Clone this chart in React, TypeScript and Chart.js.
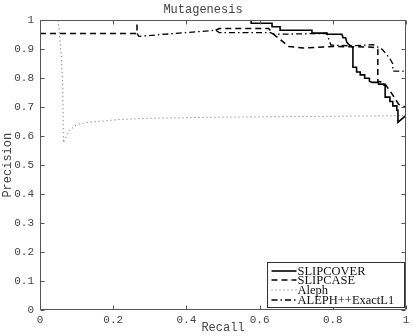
import React, { useEffect, useRef } from 'react';
import { Chart, registerables } from 'chart.js';

Chart.register(...registerables);

const titleText = 'Mutagenesis';
const xLabel = 'Recall';
const yLabel = 'Precision';
const xTicks = [0, 0.2, 0.4, 0.6, 0.8, 1];
const yTicks = [0, 0.1, 0.2, 0.3, 0.4, 0.5, 0.6, 0.7, 0.8, 0.9, 1];
const seriesNames = ['SLIPCOVER', 'SLIPCASE', 'Aleph', 'ALEPH++ExactL1'];

const slipcoverRecall = [0.577, 0.577, 0.634, 0.634, 0.656, 0.656, 0.743, 0.743, 0.784, 0.784, 0.825, 0.828, 0.835, 0.838, 0.845, 0.855, 0.855, 0.865, 0.865, 0.875, 0.875, 0.887, 0.887, 0.9, 0.9, 0.907, 0.925, 0.925, 0.94, 0.94, 0.943, 0.943, 0.956, 0.956, 0.964, 0.964, 0.975, 0.975, 0.978, 0.978, 1.0];
const slipcoverPrecision = [1.0, 0.99, 0.99, 0.978, 0.978, 0.966, 0.966, 0.956, 0.956, 0.952, 0.952, 0.94, 0.94, 0.925, 0.915, 0.907, 0.838, 0.838, 0.822, 0.822, 0.812, 0.812, 0.8, 0.8, 0.79, 0.786, 0.786, 0.78, 0.78, 0.776, 0.776, 0.735, 0.735, 0.72, 0.72, 0.705, 0.705, 0.69, 0.69, 0.648, 0.672];

// null precision = break in the line
const slipcaseRecall = [0, 0.265, 0.265, 0.37, 0.48, 0.49, 0.625, 0.635, 0.66, 0.68, 0.72, 0.8, 0.9, 0.92, 0.923, 0.923, 0.94, 0.96, 0.98, 1.0];
const slipcasePrecision: (number | null)[] = [0.955, 0.955, 1.0, null, 0.966, 0.972, 0.972, 0.955, 0.93, 0.91, 0.905, 0.91, 0.908, 0.905, 0.9, 0.79, 0.785, 0.75, 0.71, 0.7];

const alephRecall = [0.05, 0.058, 0.062, 0.064, 0.07, 0.08, 0.1, 0.13, 0.165, 0.22, 0.3, 0.5, 0.7, 0.9, 1.0];
const alephPrecision = [1.0, 0.88, 0.78, 0.577, 0.595, 0.62, 0.64, 0.648, 0.652, 0.658, 0.662, 0.666, 0.668, 0.67, 0.671];

const alephPPRecall = [0.265, 0.27, 0.48, 0.49, 0.63, 0.64, 0.785, 0.79, 0.795, 0.85, 0.91, 0.935, 0.955, 0.964, 0.964, 1.0];
const alephPPPrecision = [0.955, 0.945, 0.966, 0.958, 0.958, 0.952, 0.955, 0.93, 0.915, 0.912, 0.916, 0.9, 0.87, 0.85, 0.825, 0.825];

const MONO = '"Liberation Mono", "DejaVu Sans Mono", monospace';
const SERIF = '"Liberation Serif", "DejaVu Serif", serif';
const AXIS_COLOR = '#555555';
const TEXT_COLOR = '#444444';

const toPoints = (xs: number[], ys: (number | null)[]) => xs.map((x, i) => ({ x, y: ys[i] }));

const fmt = (v: number) => (v === 0 ? '0' : v === 1 ? '1' : String(Math.round(v * 10) / 10));

const framePlugin = {
  id: 'frameTicks',
  afterDatasetsDraw(chart: any) {
    const { ctx, chartArea, scales } = chart;
    const { left, right, top, bottom } = chartArea;
    const L = Math.round(left) + 0.5;
    const R = Math.round(right) - 0.5;
    const T = Math.round(top) + 0.5;
    const B = Math.round(bottom) - 0.5;
    ctx.save();
    ctx.strokeStyle = AXIS_COLOR;
    ctx.lineWidth = 1;
    ctx.setLineDash([]);
    ctx.beginPath();
    ctx.rect(L, T, R - L, B - T);
    ctx.stroke();
    const len = 4;
    ctx.beginPath();
    xTicks.forEach((v) => {
      const px = Math.round(scales.x.getPixelForValue(v)) + 0.5;
      ctx.moveTo(px, B);
      ctx.lineTo(px, B - len);
      ctx.moveTo(px, T);
      ctx.lineTo(px, T + len);
    });
    yTicks.forEach((v) => {
      const py = Math.round(scales.y.getPixelForValue(v)) + 0.5;
      ctx.moveTo(L, py);
      ctx.lineTo(L + len, py);
      ctx.moveTo(R, py);
      ctx.lineTo(R - len, py);
    });
    ctx.stroke();
    ctx.restore();
  },
};

const legendPlugin = {
  id: 'boxLegend',
  afterDraw(chart: any) {
    const { ctx, chartArea } = chart;
    const w = 137;
    const h = 45;
    const x0 = Math.round(chartArea.right) - 2 - w + 0.5;
    const y0 = Math.round(chartArea.bottom) - 3 - h + 0.5;
    ctx.save();
    ctx.fillStyle = '#ffffff';
    ctx.fillRect(x0, y0, w, h);
    ctx.strokeStyle = '#333333';
    ctx.lineWidth = 1;
    ctx.setLineDash([]);
    ctx.strokeRect(x0, y0, w, h);
    chart.data.datasets.forEach((ds: any, i: number) => {
      const cy = Math.round(y0 + 8 + i * 9.8);
      ctx.save();
      ctx.strokeStyle = ds.borderColor;
      ctx.lineWidth = ds.borderWidth;
      ctx.setLineDash(ds.borderDash || []);
      ctx.beginPath();
      ctx.moveTo(x0 + 4, cy);
      ctx.lineTo(x0 + 29, cy);
      ctx.stroke();
      ctx.restore();
      ctx.fillStyle = '#111111';
      ctx.font = `12.5px ${SERIF}`;
      ctx.textBaseline = 'middle';
      ctx.textAlign = 'left';
      ctx.fillText(ds.label, x0 + 30, cy + 0.5);
    });
    ctx.restore();
  },
};

export default function App() {
  const canvasRef = useRef<HTMLCanvasElement | null>(null);

  useEffect(() => {
    const canvas = canvasRef.current;
    if (!canvas) return;
    const chart = new Chart(canvas, {
      type: 'line',
      data: {
        datasets: [
          {
            label: seriesNames[0],
            data: toPoints(slipcoverRecall, slipcoverPrecision),
            borderColor: '#000000',
            borderWidth: 1.6,
            borderDash: [],
            pointRadius: 0,
            tension: 0,
            fill: false,
          },
          {
            label: seriesNames[1],
            data: toPoints(slipcaseRecall, slipcasePrecision),
            borderColor: '#000000',
            borderWidth: 1.5,
            borderDash: [6, 4],
            pointRadius: 0,
            tension: 0,
            fill: false,
            spanGaps: false,
          },
          {
            label: seriesNames[2],
            data: toPoints(alephRecall, alephPrecision),
            borderColor: '#666666',
            borderWidth: 1,
            borderDash: [1, 3],
            pointRadius: 0,
            tension: 0,
            fill: false,
          },
          {
            label: seriesNames[3],
            data: toPoints(alephPPRecall, alephPPPrecision),
            borderColor: '#000000',
            borderWidth: 1.3,
            borderDash: [6, 3, 1.5, 3],
            pointRadius: 0,
            tension: 0,
            fill: false,
          },
        ],
      },
      options: {
        animation: false,
        responsive: false,
        maintainAspectRatio: false,
        devicePixelRatio: 1,
        spanGaps: false,
        layout: { padding: { left: 0, right: 8, top: 0, bottom: 0 } },
        plugins: {
          legend: { display: false },
          tooltip: { enabled: false },
          title: {
            display: true,
            text: titleText,
            color: TEXT_COLOR,
            font: { family: MONO, size: 12, weight: 'normal' },
            padding: { top: 3, bottom: 3 },
          },
        },
        scales: {
          x: {
            type: 'linear',
            min: 0,
            max: 1,
            afterBuildTicks: (scale: any) => {
              scale.ticks = xTicks.map((v) => ({ value: v }));
            },
            afterFit: (scale: any) => {
              scale.height = 26;
            },
            grid: { display: false, drawTicks: false },
            border: { display: false },
            ticks: {
              color: TEXT_COLOR,
              font: { family: MONO, size: 11 },
              padding: 3,
              maxRotation: 0,
              autoSkip: false,
              callback: (v: any) => fmt(Number(v)),
            },
            title: {
              display: true,
              text: xLabel,
              color: TEXT_COLOR,
              font: { family: MONO, size: 12 },
              padding: { top: 0, bottom: 1 },
            },
          },
          y: {
            type: 'linear',
            min: 0,
            max: 1,
            afterBuildTicks: (scale: any) => {
              scale.ticks = yTicks.map((v) => ({ value: v }));
            },
            afterFit: (scale: any) => {
              scale.width = 40;
            },
            grid: { display: false, drawTicks: false },
            border: { display: false },
            ticks: {
              color: TEXT_COLOR,
              font: { family: MONO, size: 11 },
              padding: 6,
              autoSkip: false,
              callback: (v: any) => fmt(Number(v)),
            },
            title: {
              display: true,
              text: yLabel,
              color: TEXT_COLOR,
              font: { family: MONO, size: 12 },
              padding: { top: 1, bottom: 0 },
            },
          },
        },
      } as any,
      plugins: [framePlugin, legendPlugin],
    });
    return () => chart.destroy();
  }, []);

  return (
    <div style={{ position: 'fixed', left: 0, top: 0, width: 414, height: 336, background: '#ffffff' }}>
      <canvas ref={canvasRef} width={414} height={336} style={{ display: 'block', width: 414, height: 336 }} />
    </div>
  );
}
